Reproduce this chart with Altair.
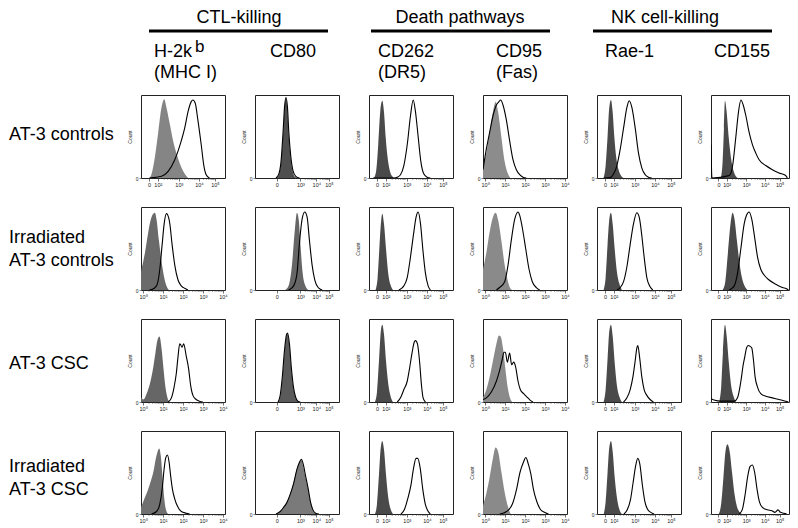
import math
import altair as alt
import pandas as pd

# ---------------- text ----------------
GROUPS = ["CTL-killing", "Death pathways", "NK cell-killing"]
COL_LABELS = [["H-2k", "(MHC I)"], ["CD80"], ["CD262", "(DR5)"], ["CD95", "(Fas)"], ["Rae-1"], ["CD155"]]
ROW_LABELS = [["AT-3 controls"], ["Irradiated", "AT-3 controls"], ["AT-3 CSC"], ["Irradiated", "AT-3 CSC"]]

# ---------------- axis tick labels (display-channel positions 0-100) ----------------
LOG_TICKS = [2.4, 26.2, 50.0, 73.8, 97.6]
LOG_LABELS = ["10⁰", "10¹", "10²", "10³", "10⁴"]
BI_TICKS = [9.5, 20.0, 45.0, 69.0, 88.0]
BI_LABELS = ["0", "10²", "10³", "10⁴", "10⁵"]
CD80_TICKS = [26.0, 54.0, 73.0, 88.0]
CD80_LABELS = ["0", "10³", "10⁴", "10⁵"]

# ---------------- histograms: [channel, % of max count] ----------------
R1C1_ISO = [[10.6,0],[12.6,5],[16.5,25],[20.5,55],[24.4,85],[27.6,95],[30.3,85],[34.3,65],[38.2,45],[42.1,30],[46,18],[52,5],[56,0]]
R1C1_STAIN = [[10,0],[24.4,2],[32.3,8],[40.2,22],[48,45],[52,60],[56,80],[59.8,92],[61.8,94],[64.6,90],[67.7,70],[71.7,40],[74.8,15],[77.6,4],[81.5,0]]
R1C2_ISO = [[26,0],[28.8,5],[31.2,20],[33.6,55],[35.2,85],[36.8,96],[38.4,85],[40,55],[42.4,25],[44.8,8],[48,1],[52,0]]
R1C2_STAIN = [[25,0],[28.4,5],[31,20],[33.4,55],[35.2,86],[36.8,97],[38.6,86],[40.2,56],[42.6,26],[45.2,9],[48.6,2],[53,0]]
R1C3_ISO = [[5.9,0],[8.7,10],[11,40],[13.4,80],[15.8,93],[17.8,80],[19.8,50],[22.1,25],[24.5,10],[27.7,2],[30.8,0]]
R1C3_STAIN = [[5,0],[30,0],[33.6,1],[37.5,4],[41.5,15],[45.5,40],[49.4,75],[52.6,94],[55.3,80],[58.5,50],[61.7,20],[65.2,5],[69.2,1],[73.1,0]]
R1C4_ISO = [[0,15],[4,30],[7.9,55],[11.9,80],[15.1,92],[17.9,80],[21.8,50],[25.8,20],[29.8,5],[32.5,0]]
R1C4_STAIN = [[0,10],[4,35],[7.9,55],[11.9,75],[15.9,88],[19,92],[21,94],[23.8,88],[27.8,70],[31.7,45],[35.7,22],[39.7,10],[43.7,4],[47.6,1],[51.6,0]]
R1C5_ISO = [[7.9,0],[10.3,15],[12.6,50],[14.6,85],[16.6,94],[18.6,80],[20.6,50],[22.9,25],[25.7,10],[28.5,3],[31.6,0]]
R1C5_STAIN = [[8,0],[15.8,0.5],[19.8,5],[23.7,15],[27.7,35],[31.6,60],[35.6,85],[38.3,93],[41.5,85],[45.5,60],[49.4,30],[53.4,12],[57.3,4],[61.3,1],[65.2,0]]
R1C6_ISO = [[12.8,0],[14.9,20],[16.6,60],[17.9,93],[20,80],[22.6,50],[25.5,25],[28.5,10],[31.9,2],[34,0]]
R1C6_STAIN = [[0,40],[1.2,0],[23.4,3],[27.7,15],[31.9,50],[35.3,80],[38.3,94],[41.3,88],[44.7,75],[48.9,55],[53.2,40],[57.4,30],[61.7,22],[70.2,15],[78.7,10],[87.2,6],[95.7,3],[97.9,0]]

R2C1_ISO = [[0,22],[4.7,45],[8.7,70],[12.6,88],[16.5,93],[18.5,85],[21.3,60],[24.4,35],[27.6,15],[30.3,5],[33.1,0]]
R2C1_STAIN = [[10,0],[12.6,0.5],[18.5,5],[22.4,25],[25.2,55],[27.6,80],[30.3,92],[31.5,91],[34.3,80],[37,55],[40.2,30],[44.1,12],[48,5],[52,2],[55.9,0]]
R2C2_ISO = [[36,0],[40,5],[44,30],[47.2,70],[50,93],[52,85],[54.4,50],[56.8,20],[60,5],[63.2,0]]
R2C2_STAIN = [[40,0],[46,5],[50,20],[52.8,55],[56,85],[59.2,94],[62,88],[64.8,60],[68,30],[71.2,12],[75.2,3],[80,0]]
R2C3_ISO = [[7.9,0],[10.3,15],[12.6,55],[14.6,85],[15.8,92],[17.8,80],[20.2,50],[22.9,20],[25.7,6],[28.5,0]]
R2C3_STAIN = [[35.6,0],[41.5,5],[45.5,15],[49.4,40],[53.4,70],[56.1,88],[58.5,94],[61.3,80],[64,50],[67.2,20],[70.4,5],[73.1,0]]
R2C4_ISO = [[0,25],[4,45],[7.9,70],[11.9,88],[15.1,93],[17.9,85],[21.8,60],[25.8,30],[29.8,10],[32.5,2],[34.9,0]]
R2C4_STAIN = [[15.9,0],[19.8,3],[25.8,10],[29.8,30],[33.7,60],[37.7,85],[41.7,94],[43.7,90],[46.8,75],[50.8,50],[54.8,25],[58.7,10],[63.5,3],[67.5,0]]
R2C5_ISO = [[7.9,0],[10.3,15],[12.6,55],[15,88],[16.6,93],[18.6,80],[21,50],[23.7,22],[26.5,8],[29.6,0]]
R2C5_STAIN = [[23.7,0],[27.7,3],[31.6,10],[35.6,28],[39.5,55],[43.5,80],[47.4,93],[50.2,88],[53.4,65],[56.1,40],[59.3,15],[63.2,4],[66.4,0]]
R2C6_ISO = [[14.9,0],[18.3,10],[21.7,45],[25.1,80],[27.7,93],[30.2,85],[33.2,60],[36.2,35],[39.6,15],[43,5],[46.8,0]]
R2C6_STAIN = [[23.4,0],[29.8,5],[34,20],[38.3,50],[42.6,80],[45.5,90],[48.9,94],[52.3,85],[55.7,65],[59.6,40],[63.8,25],[68.1,18],[74.5,12],[83,7],[91.5,3],[97.9,1],[99.1,0]]

R3C1_ISO = [[0,6],[2.8,3],[6.7,10],[10.6,22],[14.6,42],[17.3,60],[19.7,75],[22,79],[24.4,65],[26.8,40],[29.1,18],[31.5,5],[33.5,0]]
R3C1_STAIN = [[32.3,0],[36.2,5],[39.4,18],[42.1,35],[44.1,55],[46.1,70],[47.2,69],[48.8,66],[50.8,70],[53.9,55],[56.7,40],[59.1,20],[61.8,8],[65.7,3],[69.7,1],[73.6,0]]
R3C2_ISO = [[28,0],[30.4,8],[32.8,30],[35.2,60],[37.6,80],[38.8,82],[40.8,70],[43.2,40],[45.6,18],[48,6],[50.4,1],[52.8,0]]
R3C2_STAIN = [[27.5,0],[30,8],[32.5,30],[35,61],[37.5,81],[38.8,83],[41,70],[43.4,40],[45.8,18],[48.3,6],[51,1],[54,0]]
R3C3_ISO = [[7.1,0],[9.5,12],[11.9,50],[13.8,82],[15.8,93],[17.8,82],[20.2,50],[22.9,22],[25.7,7],[28.5,0]]
R3C3_STAIN = [[33.6,0],[37.5,5],[41.5,15],[45.5,25],[48.2,40],[51.4,60],[53.8,72],[55.3,74],[57.7,70],[60.1,50],[62.5,20],[64.4,5],[67.2,0]]
R3C4_ISO = [[0,5],[4,15],[7.9,30],[11.9,50],[15.9,70],[19,80],[21,79],[23.8,65],[26.6,40],[29.8,15],[32.5,4],[34.9,0]]
R3C4_STAIN = [[0,3],[4,5],[9.9,12],[15.9,25],[19.8,38],[22.6,50],[25,60],[26.6,60],[29,48],[31.7,59],[34.1,45],[36.5,48],[38.9,42],[41.7,25],[44.4,15],[48.4,10],[52.4,6],[56.3,2],[59.5,0]]
R3C5_ISO = [[7.9,0],[10.3,15],[12.6,52],[14.6,85],[16.6,93],[18.6,80],[21,48],[23.7,20],[26.5,7],[29.6,0]]
R3C5_STAIN = [[31.6,0],[35.6,5],[39.5,15],[42.7,30],[45.5,50],[47.4,65],[48.6,68],[50.6,55],[53.4,30],[56.1,15],[59.3,8],[63.2,3],[67.2,0]]
R3C6_ISO = [[10.6,0],[13.2,20],[15.3,60],[17.9,93],[20,80],[22.6,50],[25.5,22],[28.5,8],[31.9,0]]
R3C6_STAIN = [[0,4],[5,2],[12,1],[30,1],[34,5],[38.3,25],[41.3,45],[43.4,55],[45.5,65],[47.7,68],[50.2,67],[52.3,65],[54.5,50],[56.6,30],[59.6,18],[63.8,10],[70.2,7],[78.7,5],[87.2,3],[95.7,1],[99.1,0]]

R4C1_ISO = [[0,8],[3.9,18],[7.9,28],[11.8,40],[15,52],[17.3,65],[19.7,75],[21.7,79],[23.6,70],[25.6,45],[27.6,20],[29.5,6],[32.3,0]]
R4C1_STAIN = [[12.6,0],[18.5,3],[22.4,12],[25.2,30],[27.6,55],[29.5,68],[31.5,71],[33.5,62],[35.4,45],[37.4,30],[40.2,18],[44.1,8],[48,3],[53.9,1],[57.9,0]]
R4C2_ISO = [[26,0],[30,3],[34,8],[38,15],[42,25],[46,38],[50,55],[52.8,62],[55.2,65],[57.2,58],[60,45],[63.2,30],[66,15],[68.8,5],[72,1],[75.2,0]]
R4C2_STAIN = [[25,0],[30,3],[34,8],[38,14],[42,24],[46,37],[50,54],[52.8,62],[55.2,66],[57.4,60],[60.2,46],[63.4,30],[66.2,14],[69,5],[72.2,1],[76,0]]
R4C3_ISO = [[7.1,0],[9.5,12],[11.9,48],[13.8,78],[15.8,88],[17.8,78],[20.2,48],[22.9,20],[25.7,6],[28.5,0]]
R4C3_STAIN = [[38,0],[42,5],[46,18],[50,35],[53,55],[56,67],[58,67],[61,55],[64,30],[67,12],[70,4],[73,0]]
R4C4_ISO = [[0,10],[4,25],[8,45],[12,68],[15,80],[18,75],[22,50],[26,25],[30,8],[33,0]]
R4C4_STAIN = [[20,0],[28,3],[35,12],[40,30],[44,50],[48,62],[51,68],[54,60],[57,48],[60,30],[64,15],[68,6],[73,2],[78,0]]
R4C5_ISO = [[8,0],[10.3,15],[12.6,50],[14.6,80],[16.6,88],[18.6,76],[21,45],[23.7,20],[26.5,6],[29.6,0]]
R4C5_STAIN = [[32,0],[36,5],[40,18],[43,38],[46,58],[48.5,67],[51,60],[54,35],[57,15],[60,6],[64,2],[68,0]]
R4C6_ISO = [[10,0],[13,12],[16,45],[18.5,75],[21,84],[24,75],[27,50],[30,25],[33,10],[36,3],[40,0]]
R4C6_STAIN = [[36,0],[40,5],[44,25],[47,45],[50,57],[53,59],[56,50],[59,30],[62,15],[66,8],[72,5],[78,4],[82,2],[86,5],[89,2],[93,1],[97,0]]

CURVES = [
    [(R1C1_ISO, R1C1_STAIN), (R1C2_ISO, R1C2_STAIN), (R1C3_ISO, R1C3_STAIN), (R1C4_ISO, R1C4_STAIN), (R1C5_ISO, R1C5_STAIN), (R1C6_ISO, R1C6_STAIN)],
    [(R2C1_ISO, R2C1_STAIN), (R2C2_ISO, R2C2_STAIN), (R2C3_ISO, R2C3_STAIN), (R2C4_ISO, R2C4_STAIN), (R2C5_ISO, R2C5_STAIN), (R2C6_ISO, R2C6_STAIN)],
    [(R3C1_ISO, R3C1_STAIN), (R3C2_ISO, R3C2_STAIN), (R3C3_ISO, R3C3_STAIN), (R3C4_ISO, R3C4_STAIN), (R3C5_ISO, R3C5_STAIN), (R3C6_ISO, R3C6_STAIN)],
    [(R4C1_ISO, R4C1_STAIN), (R4C2_ISO, R4C2_STAIN), (R4C3_ISO, R4C3_STAIN), (R4C4_ISO, R4C4_STAIN), (R4C5_ISO, R4C5_STAIN), (R4C6_ISO, R4C6_STAIN)],
]

# ---------------- styles ----------------
AXIS_KIND = [
    ["bi", "cd80", "bi", "log", "bi", "bi"],
    ["log", "cd80", "bi", "log", "bi", "bi"],
    ["log", "cd80", "bi", "log", "bi", "bi"],
    ["log", "cd80", "bi", "log", "bi", "bi"],
]
FILLS = [
    ["#858585", "#4f4f4f", "#4a4a4a", "#8c8c8c", "#4a4a4a", "#4a4a4a"],
    ["#6a6a6a", "#666666", "#4a4a4a", "#8a8a8a", "#4a4a4a", "#4a4a4a"],
    ["#666666", "#5a5a5a", "#4a4a4a", "#8a8a8a", "#4a4a4a", "#4a4a4a"],
    ["#707070", "#7a7a7a", "#4a4a4a", "#8a8a8a", "#4a4a4a", "#4a4a4a"],
]
WIDTHS = [84, 84, 84, 84, 84, 78]
HEIGHT = 83
FONT = "Liberation Sans"
ROW_LABEL_Y = [40, 31, 45, 36]


def minor_ticks(majors, start_index):
    out = []
    for a, b in zip(majors[start_index:-1], majors[start_index + 1:]):
        for k in range(2, 10):
            out.append(round(a + (b - a) * math.log10(k), 2))
    return out


def axis_spec(kind):
    if kind == "log":
        majors, labels, first = LOG_TICKS, LOG_LABELS, 0
    elif kind == "cd80":
        majors, labels, first = CD80_TICKS, CD80_LABELS, 1
    else:
        majors, labels, first = BI_TICKS, BI_LABELS, 1
    arr_v = "[" + ",".join(str(v) for v in majors) + "]"
    arr_l = "[" + ",".join(f"'{lab}'" for lab in labels) + "]"
    expr = f"{arr_l}[indexof({arr_v}, datum.value)] || ''"
    return majors, expr, minor_ticks(majors, first)


def one(text, x, y, size=18, align="left", baseline="alphabetic", line_height=21):
    return alt.Chart(pd.DataFrame({"d": [0]})).mark_text(
        text=text, fontSize=size, align=align, baseline=baseline,
        lineHeight=line_height, font=FONT, color="black"
    ).encode(x=alt.value(x), y=alt.value(y))


def bar(x1, x2, y):
    return alt.Chart(pd.DataFrame({"d": [0]})).mark_rule(
        strokeWidth=3, color="black"
    ).encode(x=alt.value(x1), x2=alt.value(x2), y=alt.value(y))


GROUP_Y = -72
RULE_Y = -64


def extras(r, c):
    layers = []
    if c == 0:
        layers.append(one(ROW_LABELS[r], -132, ROW_LABEL_Y[r], baseline="middle", line_height=23))
    if r == 0:
        lab = COL_LABELS[c]
        if c == 0:
            layers.append(one(lab[0], 13, -38))
            layers.append(one("b", 54, -43, size=17))
            layers.append(one(lab[1], 13, -17))
            layers.append(one(GROUPS[0], 98, GROUP_Y, align="center"))
            layers.append(bar(8, 187, RULE_Y))
        elif c == 1:
            layers.append(one(lab, 38, -38, align="center"))
        elif c == 2:
            layers.append(one(lab, 9, -38))
            layers.append(one(GROUPS[1], 91, GROUP_Y, align="center"))
            layers.append(bar(2, 181, RULE_Y))
        elif c == 3:
            layers.append(one(lab, 13, -38))
        elif c == 4:
            layers.append(one(lab, 8, -38))
            layers.append(one(GROUPS[2], 68, GROUP_Y, align="center"))
            layers.append(bar(-4, 175, RULE_Y))
        else:
            layers.append(one(lab, 3, -38))
    return layers


def panel(r, c):
    iso, stain = CURVES[r][c]
    majors, expr, minors = axis_spec(AXIS_KIND[r][c])
    x_axis = alt.Axis(values=majors, labelExpr=expr, title=None, grid=False, domain=False,
                      tickSize=3, tickColor="#333", tickWidth=0.7, labelFontSize=5.5,
                      labelPadding=1, labelOverlap=False, labelFlush=False, labelColor="#222",
                      labelFont=FONT)
    y_axis = alt.Axis(values=[0], title="Count", titleFontSize=5, titlePadding=3,
                      titleFontWeight="normal", titleColor="#222", titleFont=FONT,
                      labelFontSize=5, labelPadding=1, labelColor="#222", labelFont=FONT,
                      labelOverlap=False, labelFlush=False,
                      tickSize=2, tickColor="#333", tickWidth=0.6, domain=False, grid=False)
    xs = alt.Scale(domain=[0, 100], nice=False, zero=False)
    ys = alt.Scale(domain=[0, 100], nice=False)
    area = alt.Chart(pd.DataFrame(iso, columns=["x", "y"])).mark_area(
        color=FILLS[r][c], interpolate="monotone", clip=True, opacity=1
    ).encode(x=alt.X("x:Q", scale=xs, axis=x_axis), y=alt.Y("y:Q", scale=ys, axis=y_axis))
    line = alt.Chart(pd.DataFrame(stain, columns=["x", "y"])).mark_line(
        color="black", strokeWidth=1.1, interpolate="monotone", clip=True
    ).encode(x=alt.X("x:Q", scale=xs, axis=x_axis), y=alt.Y("y:Q", scale=ys, axis=y_axis))
    minor = alt.Chart(pd.DataFrame({"x": minors})).mark_tick(
        orient="vertical", size=2, thickness=0.6, color="#333"
    ).encode(x=alt.X("x:Q", scale=xs, axis=x_axis), y=alt.value(HEIGHT + 1))
    return alt.layer(area, line, minor, *extras(r, c)).properties(width=WIDTHS[c], height=HEIGHT)


panels = [panel(r, c) for r in range(4) for c in range(6)]

chart = alt.concat(
    *panels, columns=6, spacing={"row": 29, "column": 30}, bounds="flush"
).properties(
    padding={"left": 0, "top": 0, "right": 0, "bottom": 0}
).configure(font=FONT).configure_view(stroke="#222", strokeWidth=1).configure_axis(labelOverlap=False)

chart.save("out.html", embed_options={"renderer": "svg", "actions": False})
